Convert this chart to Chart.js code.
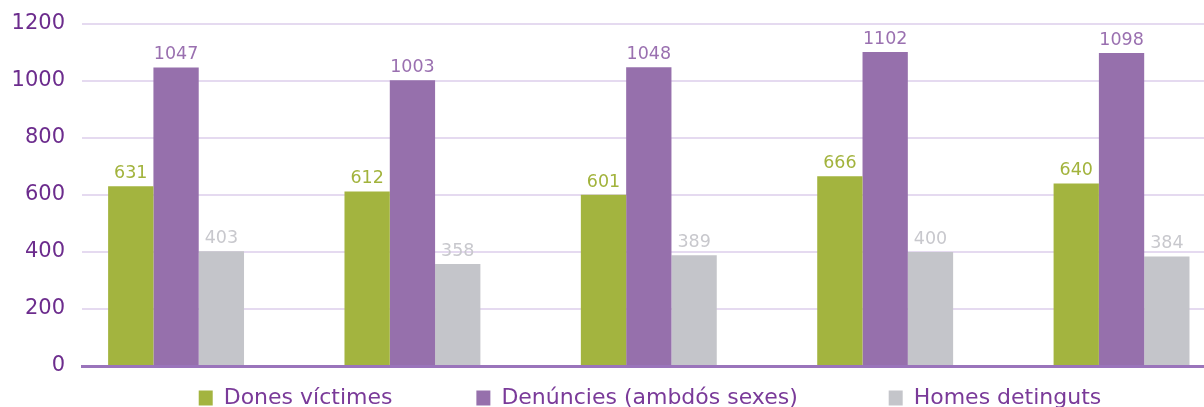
<!DOCTYPE html>
<html>
<head>
<meta charset="utf-8">
<script src="https://cdn.jsdelivr.net/npm/chart.js@4"></script>
<style>
  html, body { margin: 0; padding: 0; background: #fff; overflow: hidden; }
  .wrap { position: relative; width: 1300px; height: 419px; }
</style>
</head>
<body>
<div class="wrap"><canvas id="myChart"></canvas></div>
<script>
// group positions (no category names are printed in the chart)
const categories = [1, 2, 3, 4, 5];
const seriesNames = ['Dones víctimes', 'Denúncies (ambdós sexes)', 'Homes detinguts'];
const donesVictimes = [631, 612, 601, 666, 640];
const denuncies = [1047, 1003, 1048, 1102, 1098];
const homesDetinguts = [403, 358, 389, 400, 384];
const yTicks = [0, 200, 400, 600, 800, 1000, 1200];

const green = '#a3b43f';
const purple = '#9670ac';
const grey = '#c4c5ca';

// extra blank room after a legend entry, the original spaces them widely
const legendGap = [9, 10, 0];

// values written above every bar
const valueLabels = {
    id: 'valueLabels',
    afterDatasetsDraw(chart) {
        const c = chart.ctx;
        c.save();
        c.font = '17.5px "DejaVu Sans"';
        c.textAlign = 'center';
        c.textBaseline = 'bottom';
        chart.data.datasets.forEach((ds, i) => {
            const meta = chart.getDatasetMeta(i);
            meta.data.forEach((bar, j) => {
                c.fillStyle = ds.labelColor;
                c.fillText(ds.data[j], bar.x, bar.y - 4);
            });
        });
        c.restore();
    }
};

const ctx = document.getElementById('myChart').getContext('2d');
const myChart = new Chart(ctx, {
    type: 'bar',
    data: {
        labels: categories,
        datasets: [{
            label: seriesNames[0],
            data: donesVictimes,
            backgroundColor: green,
            labelColor: '#a2b33c'
        }, {
            label: seriesNames[1],
            data: denuncies,
            backgroundColor: purple,
            labelColor: '#9a70b0'
        }, {
            label: seriesNames[2],
            data: homesDetinguts,
            backgroundColor: grey,
            labelColor: '#c8c8cd'
        }]
    },
    options: {
        responsive: true,
        maintainAspectRatio: false,
        animation: false,
        categoryPercentage: 0.575,
        barPercentage: 1,
        borderWidth: 0,
        layout: {
            padding: { top: 24, left: 0, right: 0, bottom: 0 }
        },
        scales: {
            x: {
                type: 'linear',
                min: 0.602,
                max: 5.755,
                offset: false,
                z: 1,
                afterBuildTicks: (scale) => {
                    scale.ticks = categories.map(v => ({ value: v }));
                },
                ticks: { display: false },
                grid: { display: false, drawTicks: false },
                border: { display: true, color: '#9a74bb', width: 3 }
            },
            y: {
                min: 0,
                max: 1200,
                afterBuildTicks: (scale) => {
                    scale.ticks = yTicks.map(v => ({ value: v }));
                },
                afterFit: (scale) => {
                    scale.width = 82;
                },
                ticks: {
                    padding: 0,
                    color: '#6c2c8d',
                    font: { family: 'DejaVu Sans', size: 21 },
                    callback: (value) => String(value)
                },
                grid: {
                    color: '#e5daf0',
                    lineWidth: 2,
                    drawTicks: true,
                    tickLength: 17,
                    tickColor: 'rgba(0,0,0,0)'
                },
                border: { display: false }
            }
        },
        plugins: {
            legend: {
                position: 'bottom',
                labels: {
                    boxWidth: 14,
                    boxHeight: 15,
                    padding: 21,
                    color: '#7a3a99',
                    font: { family: 'DejaVu Sans', size: 22 },
                    generateLabels: (chart) => {
                        const items = Chart.defaults.plugins.legend.labels.generateLabels(chart);
                        items.forEach((item, i) => {
                            item.text = seriesNames[i] + ' '.repeat(legendGap[i]);
                            item.lineWidth = 0;
                        });
                        return items;
                    }
                }
            },
            tooltip: { enabled: false }
        }
    },
    plugins: [valueLabels]
});
</script>
</body>
</html>
